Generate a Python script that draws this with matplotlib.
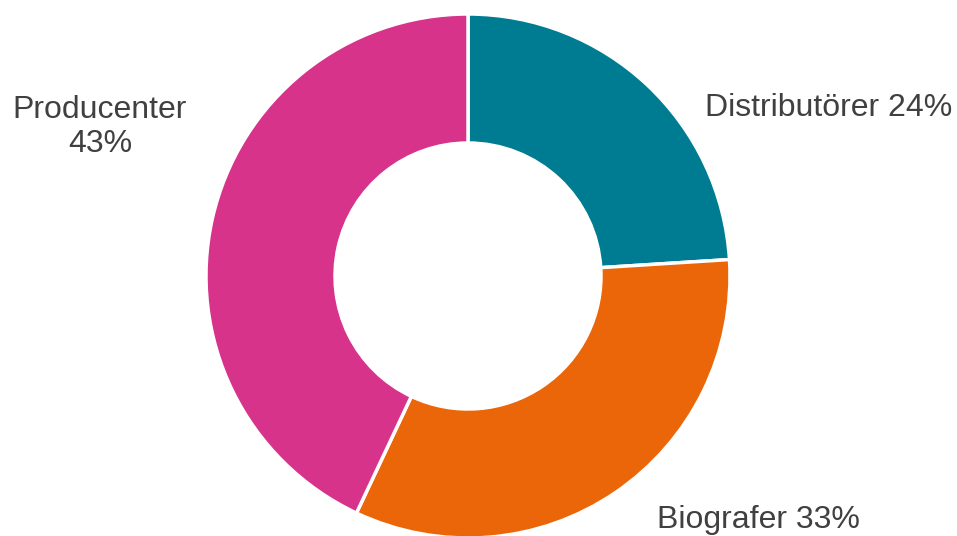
import matplotlib
matplotlib.use("Agg")
import matplotlib.pyplot as plt

categories = ["Distributörer", "Biografer", "Producenter"]
values = [24, 33, 43]
colors = ["#007C92", "#EB6608", "#D7338A"]
labels = ["Distributörer 24%", "Biografer 33%", "Producenter\n43%"]

W, H = 957, 536
fig = plt.figure(figsize=(W / 100, H / 100), dpi=100)
ax = fig.add_axes([0, 0, 1, 1])

cx, cy, r = 468, H - 276, 262
ax.pie(values, colors=colors, startangle=90, counterclock=False,
       center=(cx, cy), radius=r, frame=True,
       wedgeprops=dict(width=r - 133, edgecolor="white", linewidth=2.5))
ax.set_xlim(0, W)
ax.set_ylim(0, H)
ax.set_aspect("equal")
ax.axis("off")

font = dict(family=["Liberation Sans", "DejaVu Sans"], fontsize=23, color="#404040")
ax.text(829, H - 108, labels[0], ha="center", va="center", **font)
ax.text(758, H - 520, labels[1], ha="center", va="center", **font)
ax.text(100, H - 127, labels[2], ha="center", va="center", linespacing=1.15, **font)

fig.savefig("out.png", dpi=100)
